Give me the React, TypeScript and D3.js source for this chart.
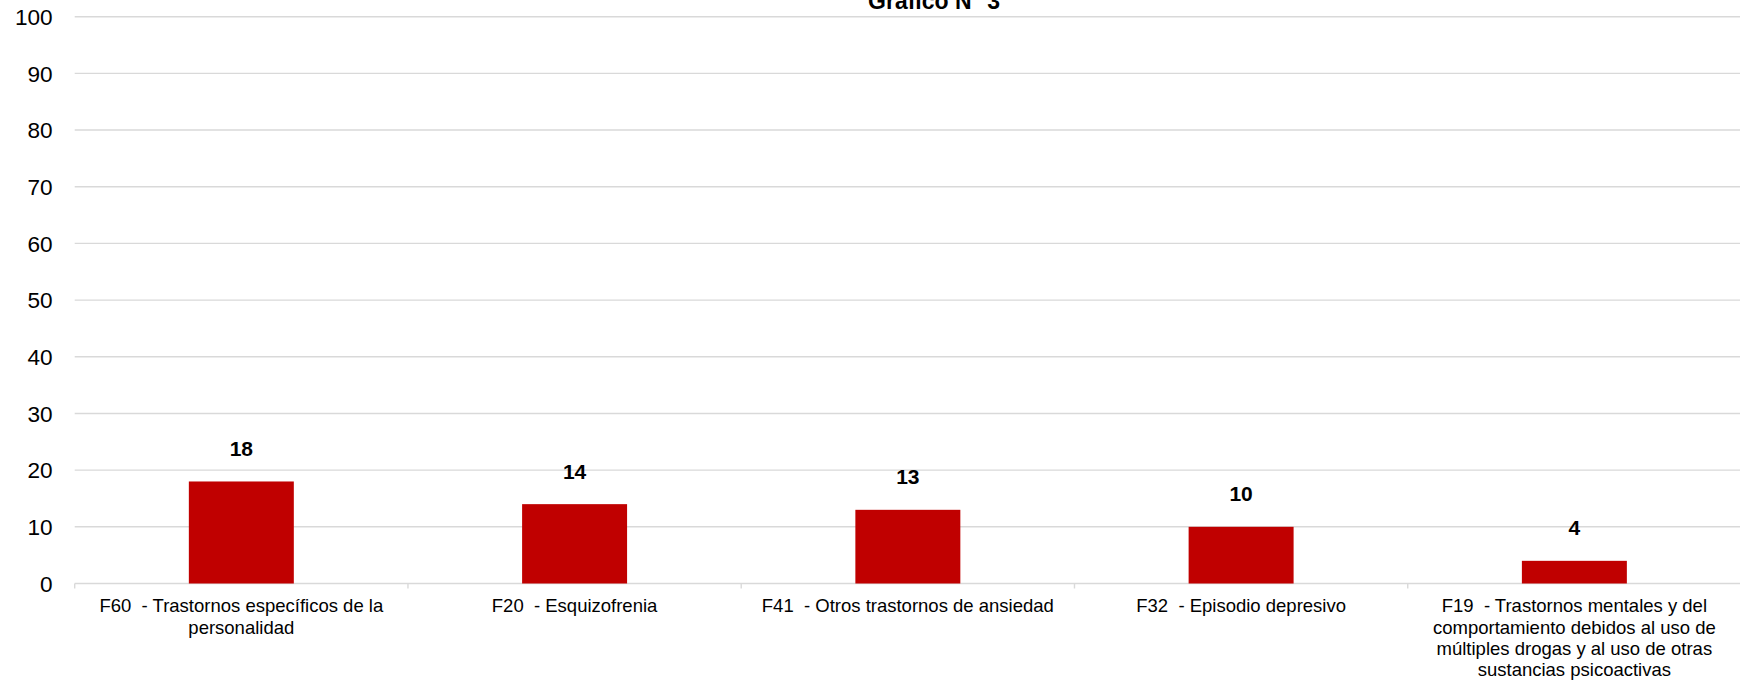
import React from "react";
import * as d3 from "d3";

const title = "Gráfico N° 3";
const categories = [
  "F60  - Trastornos específicos de la personalidad",
  "F20  - Esquizofrenia",
  "F41  - Otros trastornos de ansiedad",
  "F32  - Episodio depresivo",
  "F19  - Trastornos mentales y del comportamiento debidos al uso de múltiples drogas y al uso de otras sustancias psicoactivas",
];
const labelLines = [
  ["F60  - Trastornos específicos de la", "personalidad"],
  ["F20  - Esquizofrenia"],
  ["F41  - Otros trastornos de ansiedad"],
  ["F32  - Episodio depresivo"],
  [
    "F19  - Trastornos mentales y del",
    "comportamiento debidos al uso de",
    "múltiples drogas y al uso de otras",
    "sustancias psicoactivas",
  ],
];
const values = [18, 14, 13, 10, 4];
const yTicks = [0, 10, 20, 30, 40, 50, 60, 70, 80, 90, 100];

const W = 1740;
const H = 681;
const FONT = "'Liberation Sans', Arial, Helvetica, sans-serif";

export default function App() {
  const left = 74.7;
  const right = 1741;
  const top = 16.7;
  const bottom = 583.5;

  const x = d3.scaleBand<string>().domain(categories).range([left, right]).padding(0);
  const y = d3.scaleLinear().domain([0, 100]).range([bottom, top]);
  const bw = x.bandwidth();
  const barW = bw * 0.315;
  const grid = "#d9d9d9";

  const boundaries = categories.map((c) => x(c) as number).concat([right]);

  return (
    <svg
      width={W}
      height={H}
      style={{ position: "absolute", left: 0, top: 0, background: "#fff" }}
      fontFamily={FONT}
    >
      {yTicks.map((t) => (
        <g key={t}>
          <line x1={left} x2={right} y1={y(t)} y2={y(t)} stroke={grid} strokeWidth={1.4} />
          <text
            x={52.7}
            y={y(t)}
            dy="0.36em"
            textAnchor="end"
            fontSize={22.6}
            fill="#000"
          >
            {t}
          </text>
        </g>
      ))}
      {boundaries.map((bx, i) => (
        <line key={i} x1={bx} x2={bx} y1={bottom} y2={bottom + 5} stroke={grid} strokeWidth={1.4} />
      ))}
      {categories.map((c, i) => {
        const bx = (x(c) as number) + (bw - barW) / 2;
        const v = values[i];
        return (
          <g key={c}>
            <rect x={bx} y={y(v)} width={barW} height={y(0) - y(v)} fill="#c00000" />
            <text
              x={(x(c) as number) + bw / 2}
              y={y(v) - 33}
              dy="0.36em"
              textAnchor="middle"
              fontSize={21}
              fontWeight="bold"
              fill="#000"
            >
              {v}
            </text>
            {labelLines[i].map((ln, j) => (
              <text
                key={j}
                x={(x(c) as number) + bw / 2}
                y={606 + j * 21.3}
                dy="0.35em"
                textAnchor="middle"
                fontSize={18.5}
                fill="#000"
                style={{ whiteSpace: "pre" }}
              >
                {ln}
              </text>
            ))}
          </g>
        );
      })}
      <text x={934} y={9.3} textAnchor="middle" fontSize={23} fontWeight="bold" fill="#000">
        {title}
      </text>
    </svg>
  );
}
